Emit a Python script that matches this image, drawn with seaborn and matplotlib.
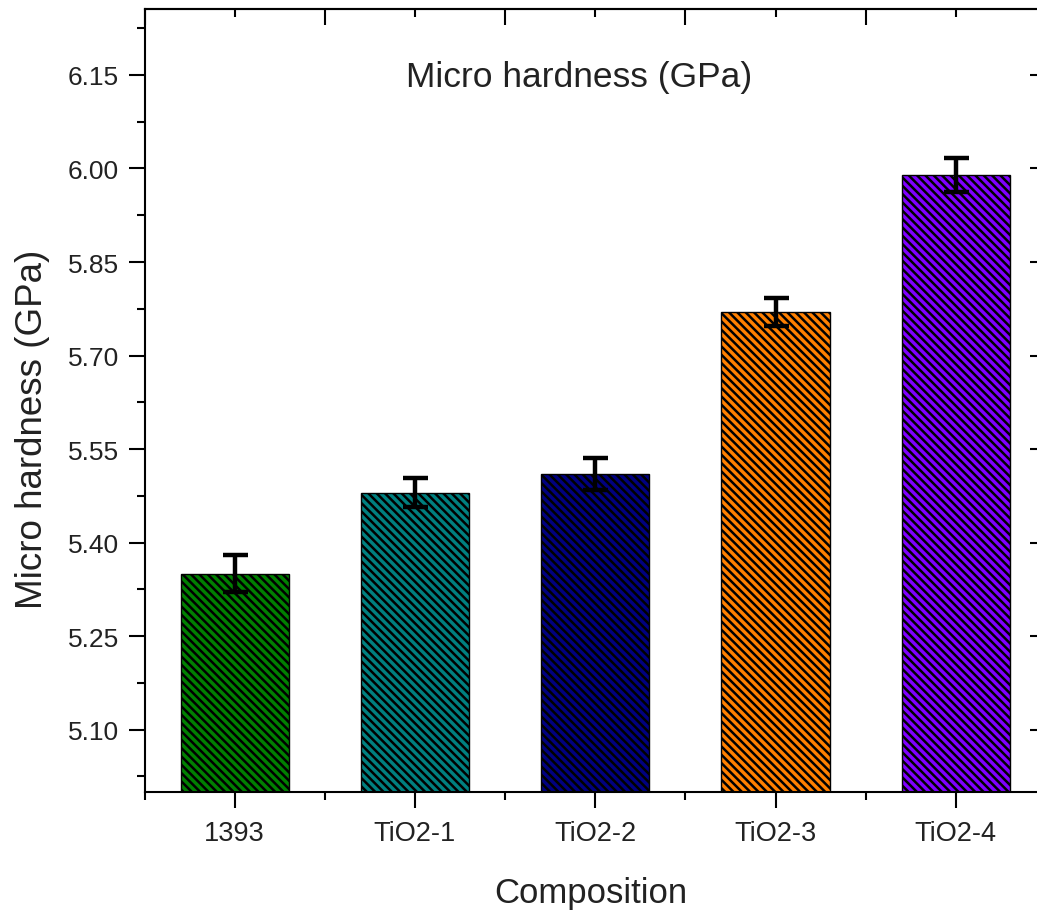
import matplotlib
matplotlib.use("Agg")
import matplotlib.pyplot as plt
from matplotlib.ticker import FixedLocator, MultipleLocator, NullFormatter
import numpy as np
import pandas as pd
import seaborn as sns

# Micro hardness per composition
categories = ["1393", "TiO2-1", "TiO2-2", "TiO2-3", "TiO2-4"]
hardness = [5.35, 5.48, 5.51, 5.77, 5.99]
hardness_err = [0.030, 0.023, 0.026, 0.023, 0.027]
bar_colors = ["#008000", "#008080", "#000080", "#ff8000", "#8000ff"]
y_ticks = [5.10, 5.25, 5.40, 5.55, 5.70, 5.85, 6.00, 6.15]

sns.set_theme(style="white")
plt.rcParams["font.family"] = ["Liberation Sans", "DejaVu Sans"]
plt.rcParams["hatch.linewidth"] = 1.8
plt.rcParams["hatch.color"] = "black"

df = pd.DataFrame({"Composition": categories, "Hardness": hardness})

fig = plt.figure(figsize=(10.37, 9.12), dpi=100)
ax = fig.add_axes([0.1394, 0.1305, 0.8692, 0.858])

sns.barplot(data=df, x="Composition", y="Hardness", hue="Composition",
            palette=bar_colors, saturation=1, legend=False, width=0.6,
            edgecolor="black", linewidth=1.0, hatch="\\\\\\\\", ax=ax)

x_pos = np.arange(len(categories))
ax.errorbar(x_pos, hardness, yerr=hardness_err, fmt="none", ecolor="black",
            elinewidth=3.2, capsize=9, capthick=3.2, zorder=5)

ax.set_xlim(-0.5, len(categories) - 0.5)
ax.set_ylim(5.0, 6.255)

for side in ["left", "bottom", "top", "right"]:
    ax.spines[side].set_visible(True)
    ax.spines[side].set_color("black")
    ax.spines[side].set_linewidth(1.5)

# left axis: outward ticks, labelled
ax.yaxis.set_major_locator(FixedLocator(y_ticks))
ax.yaxis.set_minor_locator(MultipleLocator(0.075))
ax.set_yticklabels([f"{v:.2f}" for v in y_ticks])
# bottom axis: major ticks at categories, minor ticks between them
ax.xaxis.set_minor_locator(FixedLocator(np.arange(-0.5, len(categories), 1.0)))

ax.tick_params(axis="both", which="major", direction="out", length=11.5,
               width=1.5, color="black", colors="#222222")
ax.tick_params(axis="both", which="minor", direction="out", length=6,
               width=1.5, color="black")
ax.tick_params(axis="y", which="major", labelsize=19, pad=7)
ax.tick_params(axis="x", which="major", labelsize=19.5, pad=9)
ax.tick_params(axis="both", which="both", left=True, bottom=True,
               top=False, right=False)

# top axis: inward ticks, long at category boundaries, short at centres
top = ax.secondary_xaxis("top")
top.xaxis.set_major_locator(FixedLocator(np.arange(-0.5, len(categories), 1.0)))
top.xaxis.set_minor_locator(FixedLocator(x_pos))
top.xaxis.set_major_formatter(NullFormatter())
top.tick_params(which="major", direction="in", length=11.5, width=1.5, color="black")
top.tick_params(which="minor", direction="in", length=6, width=1.5, color="black")
top.spines["top"].set_linewidth(1.5)

# right axis: inward ticks without labels
right = ax.secondary_yaxis("right")
right.yaxis.set_major_locator(FixedLocator(y_ticks))
right.yaxis.set_minor_locator(MultipleLocator(0.075))
right.yaxis.set_major_formatter(NullFormatter())
right.tick_params(which="major", direction="in", length=11.5, width=1.5, color="black")
right.tick_params(which="minor", direction="in", length=6, width=1.5, color="black")

ax.set_xlabel("Composition", fontsize=25, color="#222222")
ax.xaxis.set_label_coords(0.495, -0.108)
ax.set_ylabel("Micro hardness (GPa)", fontsize=26.5, color="#222222")
ax.yaxis.set_label_coords(-0.105, 0.465)

ax.text(0.482, 0.915, "Micro hardness (GPa)", transform=ax.transAxes,
        ha="center", va="center", fontsize=25.5, color="#222222")

fig.savefig("out.png", dpi=100, facecolor="white")
